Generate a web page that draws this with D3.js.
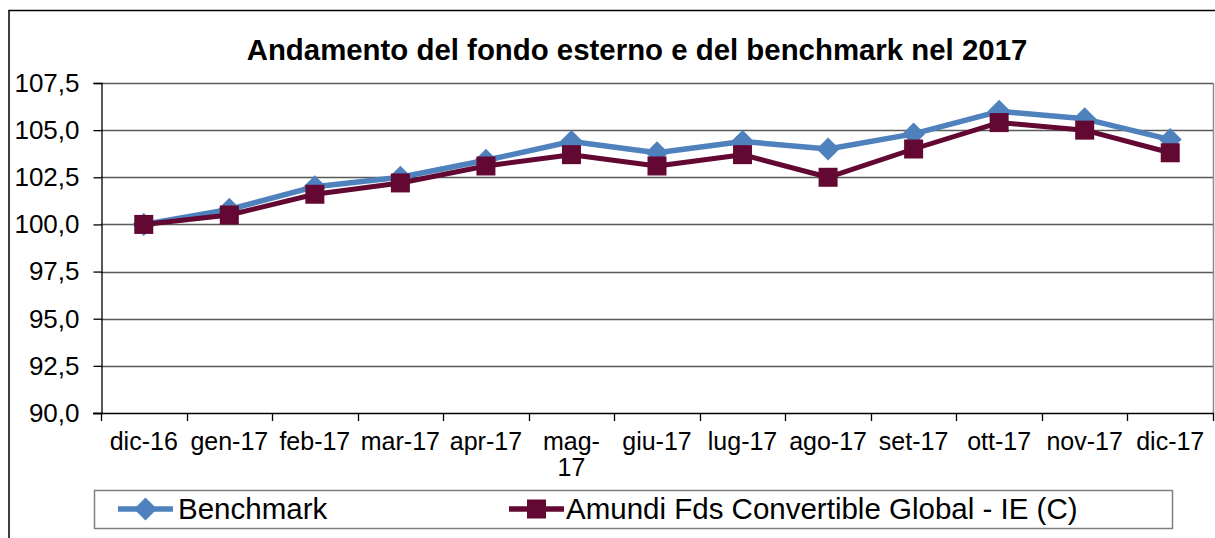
<!DOCTYPE html>
<html>
<head>
<meta charset="utf-8">
<script src="https://cdn.jsdelivr.net/npm/d3@7"></script>
<style>
  html, body { margin: 0; padding: 0; background: #ffffff; }
  svg { display: block; font-family: "Liberation Sans", Arial, sans-serif; }
</style>
</head>
<body>
<svg id="chart" width="1215" height="538"></svg>
<script>
// Monthly categories (Italian month abbreviations)
const categories = ["dic-16", "gen-17", "feb-17", "mar-17", "apr-17", "mag-17", "giu-17",
                    "lug-17", "ago-17", "set-17", "ott-17", "nov-17", "dic-17"];

// Index values, base 100 at end of 2016
const benchmarkValues = [100.0, 100.8, 102.0, 102.5, 103.4, 104.4, 103.8,
                         104.4, 104.0, 104.8, 106.0, 105.6, 104.5];
const fundValues      = [100.0, 100.5, 101.6, 102.2, 103.1, 103.7, 103.1,
                         103.7, 102.5, 104.0, 105.4, 105.0, 103.8];

const seriesNames = ["Benchmark", "Amundi Fds Convertible Global - IE (C)"];
const yTicks = [90.0, 92.5, 95.0, 97.5, 100.0, 102.5, 105.0, 107.5];
const titleText = "Andamento del fondo esterno e del benchmark nel 2017";

const svg = d3.select("#chart");
const W = 1215, H = 538;

const plot = { left: 101, right: 1213, top: 83, bottom: 413 };

const x = d3.scaleBand().domain(categories).range([plot.left, plot.right]).paddingInner(0).paddingOuter(0);
const y = d3.scaleLinear().domain([90, 107.5]).range([plot.bottom, plot.top]);
const cx = c => x(c) + x.bandwidth() / 2;

const itLocale = d3.formatLocale({ decimal: ",", thousands: ".", grouping: [3], currency: ["€", ""] });
const fmt = itLocale.format(".1f");

// Outer chart frame
svg.append("rect")
  .attr("x", 9).attr("y", 10.5).attr("width", W + 20).attr("height", H + 20)
  .attr("fill", "none").attr("stroke", "#000").attr("stroke-width", 1.5);

// Title
svg.append("text")
  .attr("x", 637).attr("y", 60)
  .attr("text-anchor", "middle")
  .attr("font-size", 29.4).attr("font-weight", "bold").attr("fill", "#000")
  .text(titleText);

// Horizontal gridlines
svg.append("g")
  .selectAll("line")
  .data(yTicks.filter(t => t > 90))
  .join("line")
  .attr("x1", plot.left).attr("x2", plot.right)
  .attr("y1", d => Math.round(y(d)) + 0.5).attr("y2", d => Math.round(y(d)) + 0.5)
  .attr("stroke", "#5a5a5a").attr("stroke-width", 1.3);

// Plot area right border
svg.append("line")
  .attr("x1", plot.right + 0.5).attr("x2", plot.right + 0.5)
  .attr("y1", plot.top).attr("y2", plot.bottom)
  .attr("stroke", "#8c8c8c").attr("stroke-width", 1.5);

// Y axis
const yAxis = d3.axisLeft(y).tickValues(yTicks).tickFormat(fmt).tickSize(8).tickPadding(14);
const gy = svg.append("g")
  .attr("transform", `translate(${plot.left + 0.5},0)`)
  .call(yAxis);
gy.select(".domain").attr("stroke", "#000").attr("stroke-width", 1.3);
gy.selectAll(".tick line").attr("stroke", "#000").attr("stroke-width", 1.3);
gy.selectAll(".tick text")
  .attr("font-size", 26).attr("fill", "#000")
  .attr("font-family", "'Liberation Sans', Arial, sans-serif");

// X axis: line, boundary ticks and category labels
const gx = svg.append("g");
gx.append("line")
  .attr("x1", plot.left - 8).attr("x2", plot.right + 1)
  .attr("y1", plot.bottom + 0.5).attr("y2", plot.bottom + 0.5)
  .attr("stroke", "#000").attr("stroke-width", 1.3);

const boundaries = categories.map(c => x(c)).concat([x.range()[1]]);
gx.selectAll("line.tick")
  .data(boundaries)
  .join("line")
  .attr("class", "tick")
  .attr("x1", d => Math.round(d) + 0.5).attr("x2", d => Math.round(d) + 0.5)
  .attr("y1", plot.bottom).attr("y2", plot.bottom + 8)
  .attr("stroke", "#000").attr("stroke-width", 1.3);

const labels = gx.selectAll("text.cat")
  .data(categories)
  .join("text")
  .attr("class", "cat")
  .attr("x", d => cx(d)).attr("y", 450)
  .attr("text-anchor", "middle")
  .attr("font-size", 25).attr("fill", "#000")
  .text(d => d);

// Wrap labels too wide for their band after the hyphen
labels.each(function(d) {
  const t = d3.select(this);
  if (this.getComputedTextLength() > x.bandwidth() - 2 && d.includes("-")) {
    const i = d.indexOf("-") + 1;
    t.text(null);
    t.append("tspan").attr("x", cx(d)).attr("dy", 0).text(d.slice(0, i));
    t.append("tspan").attr("x", cx(d)).attr("dy", 26).text(d.slice(i));
  }
});

// Series
const benchColor = "#4f81bd";
const fundColor = "#620832";

const line = d3.line().x((d, i) => cx(categories[i])).y(d => y(d));

function drawDiamond(g, px, py) {
  const r = 11.5;
  g.append("path")
    .attr("d", `M${px},${py - r}L${px + r},${py}L${px},${py + r}L${px - r},${py}Z`)
    .attr("fill", benchColor);
}
function drawSquare(g, px, py) {
  const s = 19;
  g.append("rect")
    .attr("x", px - s / 2).attr("y", py - s / 2)
    .attr("width", s).attr("height", s)
    .attr("fill", fundColor);
}

const gSeries = svg.append("g");
gSeries.append("path")
  .datum(benchmarkValues)
  .attr("d", line)
  .attr("fill", "none").attr("stroke", benchColor)
  .attr("stroke-width", 5.5).attr("stroke-linejoin", "round");
benchmarkValues.forEach((v, i) => drawDiamond(gSeries, cx(categories[i]), y(v)));

gSeries.append("path")
  .datum(fundValues)
  .attr("d", line)
  .attr("fill", "none").attr("stroke", fundColor)
  .attr("stroke-width", 5).attr("stroke-linejoin", "round");
fundValues.forEach((v, i) => drawSquare(gSeries, cx(categories[i]), y(v)));

// Legend
const lg = svg.append("g");
lg.append("rect")
  .attr("x", 94.5).attr("y", 490.5).attr("width", 1078).attr("height", 38)
  .attr("fill", "#fff").attr("stroke", "#7f7f7f").attr("stroke-width", 1.5);

const legendItems = [
  { name: seriesNames[0], x0: 118, x1: 173, tx: 178, color: benchColor, mark: drawDiamond },
  { name: seriesNames[1], x0: 509, x1: 564, tx: 566, color: fundColor, mark: drawSquare }
];
legendItems.forEach(it => {
  lg.append("line")
    .attr("x1", it.x0).attr("x2", it.x1).attr("y1", 509).attr("y2", 509)
    .attr("stroke", it.color).attr("stroke-width", 5.5);
  it.mark(lg, (it.x0 + it.x1) / 2, 509);
  lg.append("text")
    .attr("x", it.tx).attr("y", 519)
    .attr("font-size", 29.5).attr("fill", "#000")
    .text(it.name);
});
</script>
</body>
</html>
